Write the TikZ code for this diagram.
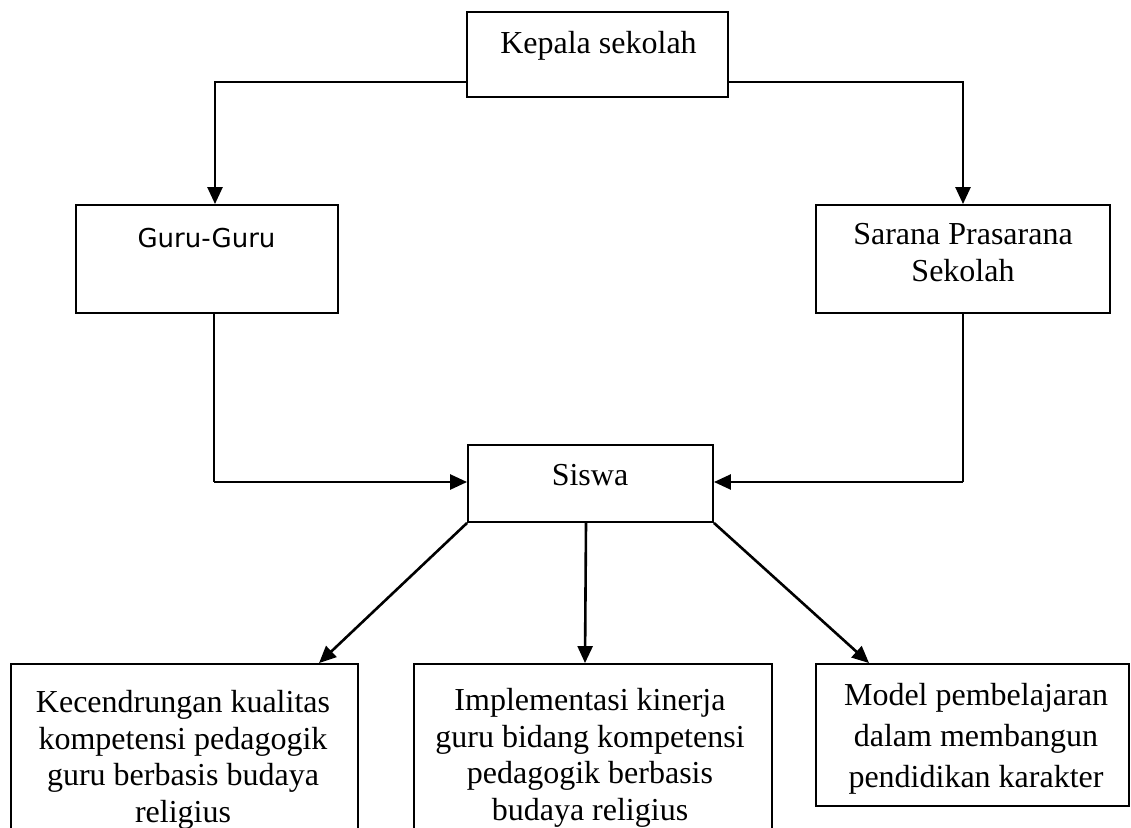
\documentclass[tikz,border=0pt]{standalone}
\usepackage{fontspec}
\setmainfont{Liberation Serif}
\newfontfamily\gurufont{DejaVu Sans}
\usetikzlibrary{arrows.meta,calc}
\begin{document}
\begin{tikzpicture}[x=1pt,y=-1pt,
  box/.style={draw,line width=1.9pt,inner sep=0pt,rectangle},
  arr/.style={line width=2.6pt,-{Triangle[length=17pt,width=15pt]}},
  plain/.style={line width=2.4pt},
  txt/.style={inner sep=0pt,font=\fontsize{32}{36.7}\selectfont,align=center}]
\clip (0,0) rectangle (1131,827);
\fill[white] (0,0) rectangle (1131,827);
% boxes
\node[box,minimum width=261pt,minimum height=85pt] (kepala) at (597.5,54.5) {};
\node[box,minimum width=262pt,minimum height=108pt] (guru) at (207,259) {};
\node[box,minimum width=294pt,minimum height=108pt] (sarana) at (963,259) {};
\node[box,minimum width=245pt,minimum height=77pt] (siswa) at (590.5,483.5) {};
\node[box,minimum width=347pt,minimum height=236pt] (kec) at (184.5,782) {};
\node[box,minimum width=358pt,minimum height=236pt] (impl) at (593,782) {};
\node[box,minimum width=313pt,minimum height=142pt] (model) at (972.5,735) {};
% texts
\node[txt,anchor=base] (tkepala) at (598.5,53) {Kepala sekolah};
\node[inner sep=0pt,anchor=base,font=\gurufont\fontsize{26}{30}\selectfont] (tguru) at (206.5,247) {Guru-Guru};
\node[txt,anchor=north,font=\fontsize{32}{37}\selectfont] (tsarana) at (963,223.5) {Sarana Prasarana\\Sekolah};
\node[txt,anchor=base] (tsiswa) at (590,485) {Siswa};
\node[txt,anchor=north] (tkec) at (183,690) {Kecendrungan kualitas\\kompetensi pedagogik\\guru berbasis budaya\\religius};
\node[txt,anchor=north] (timpl) at (590,688) {Implementasi kinerja\\guru bidang kompetensi\\pedagogik berbasis\\budaya religius};
\node[txt,anchor=north,font=\fontsize{32}{41}\selectfont] (tmodel) at (976,683) {Model pembelajaran\\dalam membangun\\pendidikan karakter};
% connectors
\draw[arr] (kepala.west |- 0,82) -| ([xshift=8pt]guru.north);
\draw[arr] (kepala.east |- 0,82) -| (sarana.north);
\coordinate (gc) at (214,482);
\coordinate (sc) at (963,482);
\draw[line width=1.3pt] ([xshift=7pt]guru.south) -- (gc);
\draw[arr] (gc) -- (siswa.west |- gc);
\draw[plain] (sarana.south) -- (sc);
\draw[arr] (sc) -- (siswa.east |- sc);
\draw[arr] (siswa.south west) -- ([xshift=309pt]kec.north west);
\draw[arr] ([xshift=-4.5pt]siswa.south) -- ([xshift=-8pt]impl.north);
\draw[arr] (siswa.south east) -- ([xshift=54pt]model.north west);
\end{tikzpicture}
\end{document}
